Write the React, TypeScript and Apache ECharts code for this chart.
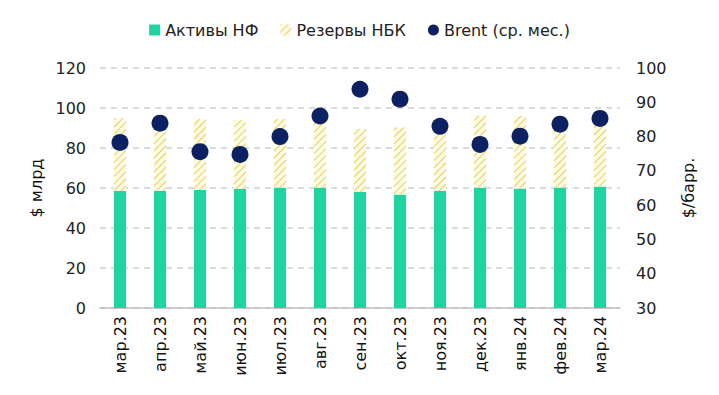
import React, { useEffect, useRef } from "react";
import * as echarts from "echarts";

const categories = ["мар.23","апр.23","май.23","июн.23","июл.23","авг.23","сен.23","окт.23","ноя.23","дек.23","янв.24","фев.24","мар.24"];
const assetsNF = [58.6, 58.6, 59.0, 59.5, 60.2, 60.2, 58.0, 56.7, 58.6, 60.2, 59.7, 60.2, 60.7];
const reservesNBK = [36.2, 36.0, 35.5, 34.5, 34.3, 34.8, 31.5, 33.5, 31.0, 36.0, 36.3, 30.0, 37.0];
const brent = [78.3, 83.9, 75.6, 74.8, 80.0, 86.0, 93.8, 90.9, 83.0, 77.7, 80.1, 83.6, 85.3];

const FONT = "DejaVu Sans";

export default function App() {
  const ref = useRef<HTMLDivElement>(null);
  useEffect(() => {
    const chart = echarts.init(ref.current!, null, { renderer: "svg" });
    chart.setOption({
      animation: false,
      textStyle: { fontFamily: FONT },
      legend: {
        top: 17,
        left: "center",
        itemWidth: 11,
        itemHeight: 11,
        itemGap: 22,
        textStyle: { fontFamily: FONT, fontSize: 16, color: "#222" },
        data: [
          { name: "Активы НФ", icon: "rect" },
          { name: "Резервы НБК", icon: "rect" },
          { name: "Brent (ср. мес.)", icon: "circle", itemStyle: { color: "#0b2161" } },
        ],
      },
      grid: { left: 100, right: 99, top: 68, bottom: 87 },
      xAxis: {
        type: "category",
        data: categories,
        axisLine: { lineStyle: { color: "#bfbfbf", width: 1.5 } },
        axisTick: { show: false },
        axisLabel: { rotate: 90, fontSize: 16, color: "#111", fontFamily: FONT, margin: 8, interval: 0 },
      },
      yAxis: [
        {
          type: "value",
          min: 0,
          max: 120,
          interval: 20,
          name: "$ млрд",
          nameLocation: "middle",
          nameGap: 54,
          nameTextStyle: { fontSize: 16, color: "#111", fontFamily: FONT },
          axisLine: { show: false },
          axisTick: { show: false },
          axisLabel: { fontSize: 16, color: "#222", fontFamily: FONT, margin: 14 },
          splitLine: { lineStyle: { color: "#cfcfcf", width: 1.5, type: [6, 5] } },
        },
        {
          type: "value",
          min: 30,
          max: 100,
          interval: 10,
          name: "$/барр.",
          nameLocation: "middle",
          nameGap: 60,
          nameRotate: 90,
          nameTextStyle: { fontSize: 16, color: "#111", fontFamily: FONT },
          axisLine: { show: false },
          axisTick: { show: false },
          axisLabel: { fontSize: 16, color: "#222", fontFamily: FONT, margin: 16 },
          splitLine: { show: false },
        },
      ],
      series: [
        {
          name: "Активы НФ",
          type: "bar",
          stack: "a",
          data: assetsNF,
          barWidth: 12,
          itemStyle: { color: "#1ed4a0" },
        },
        {
          name: "Резервы НБК",
          type: "bar",
          stack: "a",
          data: reservesNBK,
          barWidth: 12,
          itemStyle: {
            color: "#fefbe6",
            decal: {
              symbol: "rect",
              color: "#e6cf5a",
              dashArrayX: [1, 0],
              dashArrayY: [1, 4],
              rotation: -Math.PI / 4,
            },
          },
        },
        {
          name: "Brent (ср. мес.)",
          type: "scatter",
          yAxisIndex: 1,
          data: brent,
          symbolSize: 17,
          itemStyle: { color: "#0b2161", opacity: 1 },
          z: 5,
        },
      ],
    });
    return () => chart.dispose();
  }, []);
  return <div ref={ref} style={{ width: 719, height: 395, position: "absolute", left: 0, top: 0 }} />;
}
